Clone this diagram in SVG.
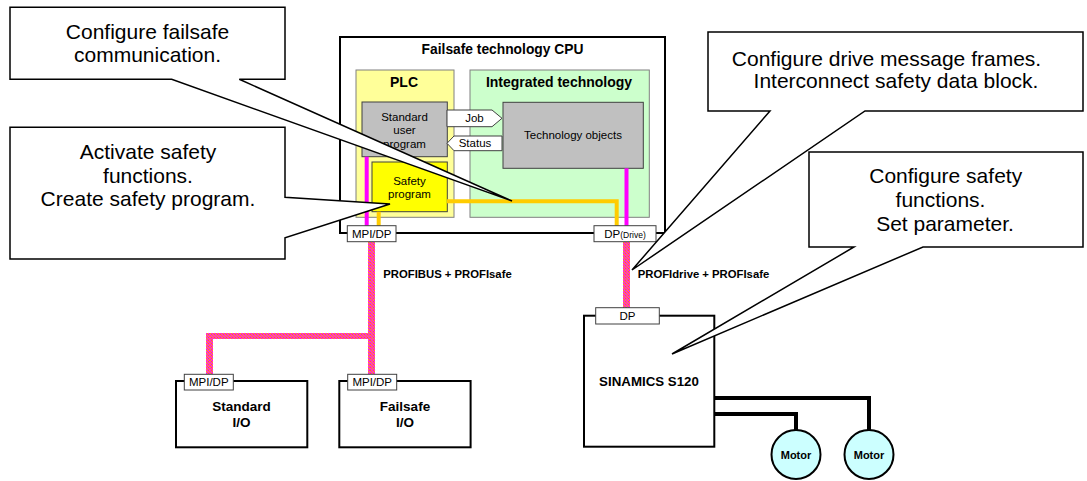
<svg xmlns="http://www.w3.org/2000/svg" width="1087" height="481" viewBox="0 0 1087 481">
<defs>
<pattern id="hatch" patternUnits="userSpaceOnUse" width="3" height="3">
<rect width="3" height="3" fill="#ff22dd" shape-rendering="crispEdges"/>
<rect x="0" y="0" width="1" height="1" fill="#ffaa00" shape-rendering="crispEdges"/>
<rect x="1" y="1" width="1" height="1" fill="#ff8800" shape-rendering="crispEdges"/>
<rect x="2" y="2" width="1" height="1" fill="#ffaa00" shape-rendering="crispEdges"/>
</pattern>
<style>
text{font-family:"Liberation Sans",Arial,sans-serif;fill:#000}
.b{font-weight:bold}
.c{text-anchor:middle}
.t115{font-size:11.5px}
.big{font-size:21px}
.frame{fill:#fff;stroke:#000;stroke-width:2}
.port{fill:#fff;stroke:#404040;stroke-width:1}
.inner{stroke:#404040;stroke-width:1}
.call{fill:#fff;stroke:#000;stroke-width:1.5;stroke-linejoin:miter}
.mag{stroke:#ff00ff;stroke-width:4;fill:none}
.org{stroke:#ffcc00;stroke-width:4;fill:none}
.cable{stroke:#000;stroke-width:4;fill:none}
.bus{shape-rendering:crispEdges}
</style>
</defs>

<g id="cpu">
<rect class="frame" x="340" y="37" width="325" height="196"/>
<text class="b c" x="502.5" y="54" font-size="13.8">Failsafe technology CPU</text>
<rect x="356" y="70" width="98" height="147.3" fill="#ffff99" stroke="#808080" stroke-width="1"/>
<text class="b c" x="404" y="87" font-size="14">PLC</text>
<rect x="470" y="70" width="179.3" height="147.3" fill="#ccffcc" stroke="#808080" stroke-width="1"/>
<text class="b c" x="559" y="87" font-size="14">Integrated technology</text>
</g>

<g id="std-user-program">
<rect class="inner" x="362" y="102" width="85.3" height="54.7" fill="#c0c0c0"/>
<text class="c t115" x="404.5" y="120.5">Standard</text>
<text class="c t115" x="404.5" y="134">user</text>
<text class="c t115" x="404.5" y="147.5">program</text>
</g>

<g id="safety-program">
<rect class="inner" x="372" y="162" width="75.3" height="49.7" fill="#ffff00"/>
<text class="c t115" x="409.5" y="184.5">Safety</text>
<text class="c t115" x="409.5" y="197.5">program</text>
</g>

<g id="tech-objects">
<rect class="inner" x="503" y="102.3" width="140.3" height="66" fill="#c0c0c0"/>
<text class="c t115" x="573" y="139">Technology objects</text>
</g>

<g id="job">
<polygon class="inner" fill="#fff" points="447,110 492,110 502,118.3 492,126.7 447,126.7"/>
<text class="c t115" x="474.5" y="122">Job</text>
</g>

<g id="status">
<polygon class="inner" fill="#fff" points="502,136 502,150.7 454,150.7 447,143.3 454,136"/>
<text class="c t115" x="475" y="147">Status</text>
</g>

<g id="connectors">
<line class="mag" x1="366.7" y1="156.7" x2="366.7" y2="226"/>
<line class="mag" x1="626.5" y1="168.3" x2="626.5" y2="226"/>
<line class="org" x1="378.7" y1="211.7" x2="378.7" y2="226"/>
<polyline class="org" points="447,201.3 616.7,201.3 616.7,226"/>
<rect class="bus" x="368" y="242" width="7" height="97" fill="url(#hatch)"/>
<rect class="bus" x="206" y="333" width="169" height="6" fill="url(#hatch)"/>
<rect class="bus" x="206" y="333" width="7" height="41" fill="url(#hatch)"/>
<rect class="bus" x="368" y="339" width="7" height="35" fill="url(#hatch)"/>
<rect class="bus" x="623" y="242" width="7" height="66" fill="url(#hatch)"/>
<path class="cable" d="M714,398 H869 V431"/>
<path class="cable" d="M714,414 H796 V431"/>
<circle cx="714" cy="398" r="2.2" fill="#000"/>
<circle cx="714" cy="414" r="2.2" fill="#000"/>
<text class="b" x="383.3" y="277.7" font-size="11.3">PROFIBUS + PROFIsafe</text>
<text class="b" x="637.7" y="277.7" font-size="11.3">PROFIdrive + PROFIsafe</text>
</g>

<g id="cpu-mpi-dp">
<rect class="port" x="347.3" y="225.7" width="48.7" height="16"/>
<text class="c t115" x="371.7" y="238">MPI/DP</text>
</g>

<g id="cpu-dp-drive">
<rect class="port" x="594" y="225.7" width="62" height="16"/>
<text class="c" x="625" y="238" font-size="11.5">DP<tspan font-size="8.5">(Drive)</tspan></text>
</g>

<g id="standard-io">
<rect class="frame" x="176" y="381" width="131.3" height="66.3"/>
<rect class="port" x="184.3" y="374.3" width="49" height="15.7"/>
<text class="c t115" x="208.8" y="385.5">MPI/DP</text>
<text class="b c" x="241.5" y="410.7" font-size="13.5">Standard</text>
<text class="b c" x="241.5" y="427.3" font-size="13.5">I/O</text>
</g>

<g id="failsafe-io">
<rect class="frame" x="339.3" y="381" width="131.3" height="66.3"/>
<rect class="port" x="347.7" y="374.3" width="49" height="15.7"/>
<text class="c t115" x="372.2" y="385.5">MPI/DP</text>
<text class="b c" x="405" y="410.7" font-size="13.5">Failsafe</text>
<text class="b c" x="405" y="427.3" font-size="13.5">I/O</text>
</g>

<g id="sinamics">
<rect class="frame" x="584" y="315.7" width="130.3" height="131"/>
<rect class="port" x="595.7" y="307.7" width="63.6" height="16.3"/>
<text class="c t115" x="627.5" y="320">DP</text>
<text class="b c" x="649" y="386" font-size="13.3">SINAMICS S120</text>
</g>

<g id="motor1">
<circle cx="796" cy="454.5" r="24.5" fill="#ccffff" stroke="#000" stroke-width="2"/>
<text class="b c" x="796" y="459" font-size="11">Motor</text>
</g>

<g id="motor2">
<circle cx="869" cy="454.5" r="24.5" fill="#ccffff" stroke="#000" stroke-width="2"/>
<text class="b c" x="869" y="459" font-size="11">Motor</text>
</g>

<g id="callout-failsafe-comm">
<path class="call" d="M10,7.3 H285 V79.3 H239.3 L512,201 L171.7,79.3 H10 Z"/>
<text class="c big" x="147.5" y="38.5">Configure failsafe</text>
<text class="c big" x="147.5" y="62">communication.</text>
</g>

<g id="callout-safety-program">
<path class="call" d="M10,127.3 H285 V197.3 L390,204 L285,237.7 V259 H10 Z"/>
<text class="c big" x="148" y="159">Activate safety</text>
<text class="c big" x="148" y="182.7">functions.</text>
<text class="c big" x="148" y="206.3">Create safety program.</text>
</g>

<g id="callout-drive-frames">
<path class="call" d="M708,32 H1083 V111 H865 L632,270 L770,111 H708 Z"/>
<text class="c big" x="886.5" y="66">Configure drive message frames.</text>
<text class="c big" x="896" y="87.5">Interconnect safety data block.</text>
</g>

<g id="callout-safety-functions">
<path class="call" d="M809,152 H1083 V247 H923 L672,354 L854,247 H809 Z"/>
<text class="c big" x="945.7" y="183">Configure safety</text>
<text class="c big" x="940.5" y="206.5">functions.</text>
<text class="c big" x="945" y="231">Set parameter.</text>
</g>
</svg>
